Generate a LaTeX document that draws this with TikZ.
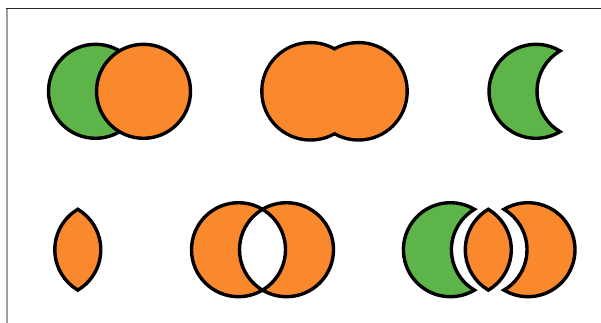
\documentclass[tikz,border=0pt]{standalone}
\usepackage{tikz}
\definecolor{setgreen}{RGB}{93,180,72}
\definecolor{setorange}{RGB}{250,136,44}

% radius of one set and distance of two centres
\def\rr{47}
\def\dd{48}
\pgfmathsetmacro{\ang}{acos(\dd/2/\rr)}

% whole set, left moon (A without B), lens (A and B), right moon (B without A)
\newcommand{\wholeset}[1]{(#1) circle[radius=\rr]}
\newcommand{\moonleft}[1]{([shift={(\ang:\rr)}]#1)
  arc[start angle=\ang, end angle=360-\ang, radius=\rr]
  arc[start angle=180+\ang, end angle=180-\ang, radius=\rr] -- cycle}
\newcommand{\lens}[1]{([shift={(-\ang:\rr)}]#1)
  arc[start angle=-\ang, end angle=\ang, radius=\rr]
  arc[start angle=180-\ang, end angle=180+\ang, radius=\rr] -- cycle}
\newcommand{\moonright}[1]{([shift={(180-\ang:\rr)}]#1)
  arc[start angle=180-\ang, end angle=-180+\ang, radius=\rr]
  arc[start angle=-\ang, end angle=\ang, radius=\rr] -- cycle}

\begin{document}
\begin{tikzpicture}[
x=1pt, y=1pt,
outline/.style={draw=black, line width=3.4pt},
fatline/.style={draw=black, line width=6.8pt},
seta/.style={fill=setgreen},
setb/.style={fill=setorange}
]
\useasboundingbox[fill=white] (0,0) rectangle (601,-323);

% frame
\draw[gray!75, line width=2pt] (6.5,-323) -- (6.5,-8.5);
\draw[black!85, line width=1.2pt] (5.5,-8.5) -- (601,-8.5);

% centres
\coordinate (unA) at (95.5,-91.3);
\coordinate (unB) at (143.5,-91.3);
\coordinate (orA) at (310.5,-91.3);
\coordinate (orB) at (358.5,-91.3);
\coordinate (diffA) at (536,-91.3);
\coordinate (capA) at (53.8,-249.7);
\coordinate (xorA) at (238.5,-249.7);
\coordinate (xorB) at (286.5,-249.7);
\coordinate (partA) at (450.4,-249.7);
\coordinate (partL) at (464.3,-249.7);
\coordinate (partB) at (528,-249.7);

% two sets
\path[seta, outline] \wholeset{unA};
\path[setb, outline] \wholeset{unB};

% union
\path[fatline] \wholeset{orA} \wholeset{orB};
\path[setb] \wholeset{orA} \wholeset{orB};

% A without B
\path[seta, outline, line join=miter] \moonleft{diffA};

% intersection
\path[setb, outline, line join=miter] \lens{capA};

% symmetric difference
\path[setb, even odd rule] \wholeset{xorA} \wholeset{xorB};
\path[outline] \wholeset{xorA};
\path[outline] \wholeset{xorB};

% the three parts apart
\path[seta, outline, line join=miter] \moonleft{partA};
\path[setb, outline, line join=miter] \lens{partL};
\path[setb, outline, line join=miter] \moonright{partB};

\end{tikzpicture}
\end{document}
